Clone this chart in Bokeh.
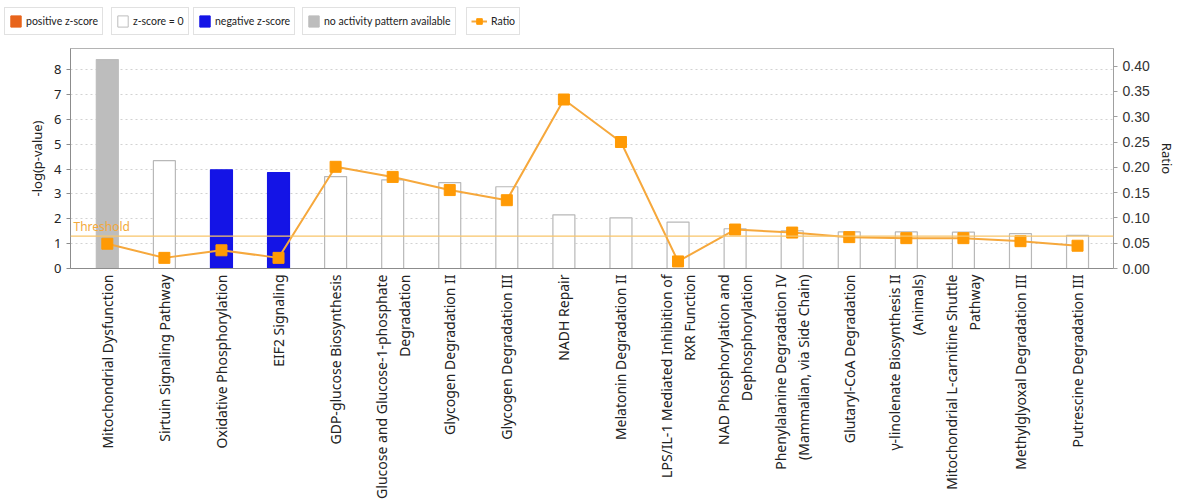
import numpy as np
from bokeh.plotting import figure
from bokeh.models import (ColumnDataSource, Range1d, LinearAxis, FixedTicker, Span, Label,
                          Legend, LegendItem, PrintfTickFormatter, CDSView, BooleanFilter)
from bokeh.layouts import column
from bokeh.embed import file_html
from bokeh.resources import INLINE

# ---------------- data ----------------
categories = [
    "Mitochondrial Dysfunction",
    "Sirtuin Signaling Pathway",
    "Oxidative Phosphorylation",
    "EIF2 Signaling",
    "GDP-glucose Biosynthesis",
    "Glucose and Glucose-1-phosphate\nDegradation",
    "Glycogen Degradation II",
    "Glycogen Degradation III",
    "NADH Repair",
    "Melatonin Degradation II",
    "LPS/IL-1 Mediated Inhibition of\nRXR Function",
    "NAD Phosphorylation and\nDephosphorylation",
    "Phenylalanine Degradation IV\n(Mammalian, via Side Chain)",
    "Glutaryl-CoA Degradation",
    "γ-linolenate Biosynthesis II\n(Animals)",
    "Mitochondrial L-carnitine Shuttle\nPathway",
    "Methylglyoxal Degradation III",
    "Putrescine Degradation III",
]
neg_log_p = [8.41, 4.34, 3.97, 3.86, 3.70, 3.57, 3.46, 3.29, 2.16, 2.04,
             1.87, 1.60, 1.52, 1.47, 1.47, 1.46, 1.40, 1.33]
ratio = [0.049, 0.021, 0.036, 0.021, 0.201, 0.181, 0.155, 0.135, 0.334, 0.250,
         0.014, 0.077, 0.071, 0.062, 0.060, 0.060, 0.054, 0.045]
zscore_status = ["none", "zero", "negative", "negative", "zero", "zero", "zero", "zero", "zero",
                 "zero", "zero", "zero", "zero", "zero", "zero", "zero", "zero", "zero"]
threshold = 1.3
left_ticks = [0, 1, 2, 3, 4, 5, 6, 7, 8]
right_ticks = [0.0, 0.05, 0.10, 0.15, 0.20, 0.25, 0.30, 0.35, 0.40]

status_order = ["positive", "zero", "negative", "none"]
status_fill = {"positive": "#e8641b", "zero": "#ffffff", "negative": "#1414e6", "none": "#bdbdbd"}
status_line = {"positive": "#e8641b", "zero": "#b8b8b8", "negative": "#1414e6", "none": "#bdbdbd"}
status_label = {"positive": "positive z-score", "zero": "z-score = 0",
                "negative": "negative z-score", "none": "no activity pattern available"}

FONT = "Noto Sans"
LEG_FONT = "Lato"
x_idx = list(range(len(categories)))
LEG_H = 40

# ---------------- main figure ----------------
p = figure(width=1178, height=501 - LEG_H, x_range=Range1d(-0.645, 17.63), y_range=Range1d(0, 8.854),
           output_backend="svg", toolbar_location=None,
           min_border_left=70, min_border_right=61, min_border_top=8, min_border_bottom=232)
p.extra_y_ranges = {"ratio": Range1d(0, 0.4348)}
p.outline_line_color = "#b4b4b4"
p.background_fill_color = "white"
p.border_fill_color = "white"

src = ColumnDataSource(dict(x=x_idx, top=neg_log_p, r=ratio, status=zscore_status))

for st in status_order:
    view = CDSView(filter=BooleanFilter([s == st for s in zscore_status]))
    p.vbar(x="x", top="top", width=0.385, source=src, view=view,
           fill_color=status_fill[st], line_color=status_line[st], line_width=1.2)

p.add_layout(Span(location=threshold, dimension="width", line_color="#f8c56a", line_width=1.2))
p.add_layout(Label(x=3, x_units="screen", y=threshold, y_offset=1, text="Threshold",
                   text_color="#f2a93b", text_font=FONT, text_font_size="12px"))

p.line("x", "r", source=src, y_range_name="ratio", line_color="#f6a83c", line_width=2)
p.scatter("x", "r", source=src, y_range_name="ratio", marker="square", size=11,
          fill_color="#ff9a05", line_color="#ff9a05")

# axes
p.xaxis.ticker = FixedTicker(ticks=x_idx)
p.xaxis.major_label_overrides = {i: c for i, c in enumerate(categories)}
p.xaxis.major_label_orientation = np.pi / 2
p.xaxis.major_tick_out = 0
p.xaxis.major_tick_in = 0
p.xaxis.minor_tick_line_color = None
p.xaxis.major_label_standoff = 6
p.xaxis.major_label_text_font = FONT
p.xaxis.major_label_text_font_size = "14px"
p.xaxis.major_label_text_color = "#222222"
p.xaxis.axis_line_color = "#8c8c8c"

p.yaxis.ticker = FixedTicker(ticks=left_ticks)
p.yaxis.axis_label = "-log(p-value)"
p.yaxis.axis_label_text_font_style = "normal"
p.yaxis.axis_label_text_font = FONT
p.yaxis.axis_label_text_font_size = "13px"
p.yaxis.axis_label_text_color = "#222222"
p.yaxis.major_label_text_font = FONT
p.yaxis.major_label_text_font_size = "13px"
p.yaxis.major_label_text_color = "#222222"
p.yaxis.axis_line_color = "#8c8c8c"
p.yaxis.major_tick_line_color = "#8c8c8c"
p.yaxis.major_tick_out = 4
p.yaxis.major_tick_in = 0
p.yaxis.minor_tick_line_color = None

rax = LinearAxis(y_range_name="ratio", ticker=FixedTicker(ticks=right_ticks),
                 formatter=PrintfTickFormatter(format="%.2f"), axis_label="Ratio")
rax.axis_label_text_font_style = "normal"
rax.axis_label_text_font = FONT
rax.axis_label_text_font_size = "13px"
rax.axis_label_text_color = "#222222"
rax.major_label_text_font = "Liberation Sans"
rax.major_label_text_font_size = "14px"
rax.major_label_text_color = "#333333"
rax.axis_line_color = "#a0a0a0"
rax.major_tick_line_color = "#a0a0a0"
rax.major_tick_out = 4
rax.major_tick_in = 0
rax.minor_tick_line_color = None
p.add_layout(rax, "right")

p.xgrid.grid_line_color = None
p.ygrid.ticker = FixedTicker(ticks=left_ticks)
p.ygrid.grid_line_color = "#d2d2d2"
p.ygrid.grid_line_dash = "2 3"

# ---------------- legend row (separate strip) ----------------
lf = figure(width=1178, height=LEG_H, x_range=Range1d(0, 1178), y_range=Range1d(0, LEG_H),
            output_backend="svg", toolbar_location=None, x_axis_type=None, y_axis_type=None,
            min_border_left=0, min_border_right=0, min_border_top=0, min_border_bottom=0,
            outline_line_color=None)
lf.grid.visible = False
# legend renderers live on a y range far away from their data, so nothing shows in the strip
lf.extra_y_ranges = {"off": Range1d(1000, 2000)}
try:
    lf.frame_align = False
    p.frame_align = False
except AttributeError:
    pass

legend_left = {"positive": 4, "zero": 111, "negative": 193, "none": 302, "ratio": 466}

def add_box(label, renderers, left, gw):
    lg = Legend(items=[LegendItem(label=label, renderers=renderers)],
                location=(left, 5), orientation="horizontal", border_line_color="#c4c4c4",
                padding=4, margin=0, spacing=0, glyph_width=gw, glyph_height=14,
                label_height=18, label_standoff=4, label_text_font=LEG_FONT,
                label_text_font_size="10.5px", label_text_color="#222222",
                label_text_baseline="middle", background_fill_color="white")
    lf.add_layout(lg, "center")

for st in status_order:
    r = lf.vbar(x="x", top="top", width=0.4, source=src, y_range_name="off",
                fill_color=status_fill[st],
                line_color=("#bdbdbd" if st == "zero" else status_fill[st]))
    add_box(status_label[st], [r], legend_left[st], 13)

rl = lf.line("x", "r", source=src, y_range_name="off", line_color="#f6a83c", line_width=2)
rs = lf.scatter("x", "r", source=src, y_range_name="off", marker="square", size=8,
                fill_color="#ff9a05", line_color="#ff9a05")
add_box("Ratio", [rl, rs], legend_left["ratio"], 16)

layout = column(lf, p, spacing=0)
open("out.html", "w").write(file_html(layout, INLINE))
